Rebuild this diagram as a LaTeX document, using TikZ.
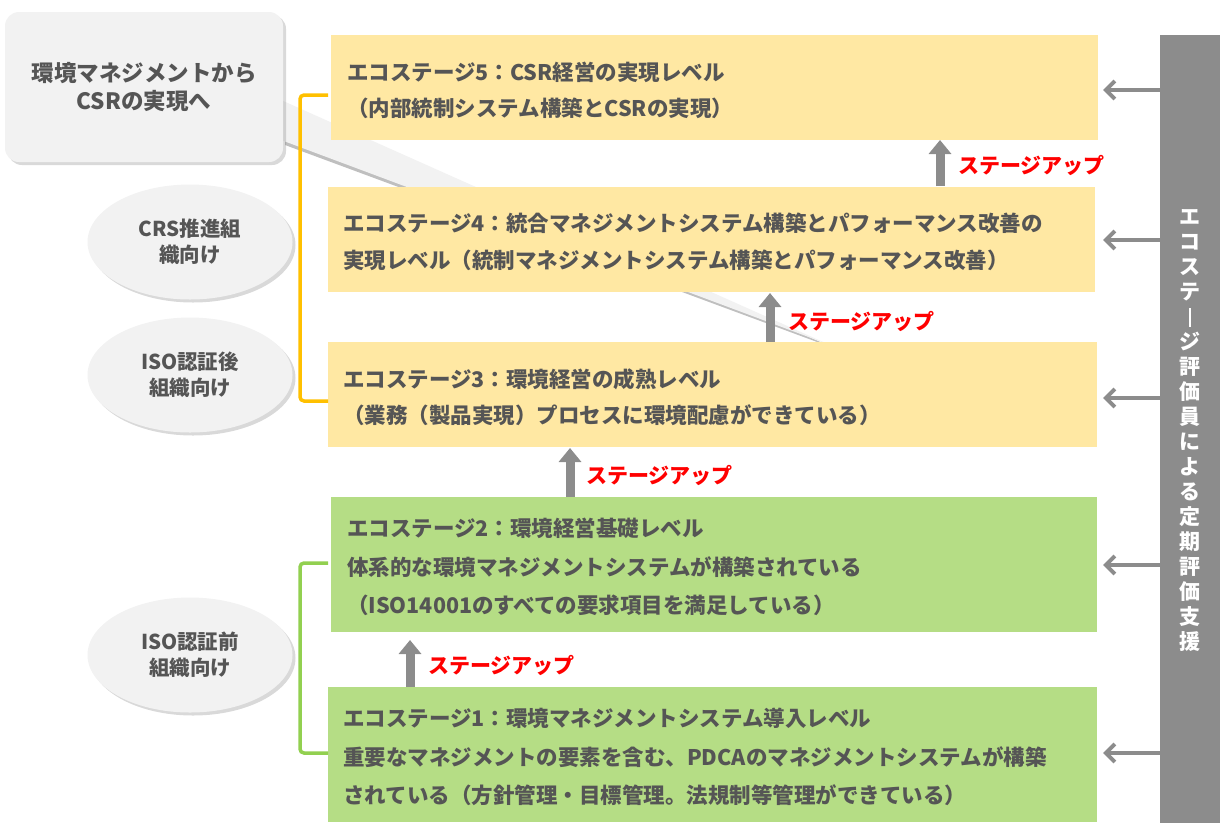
\documentclass[tikz,border=0pt]{standalone}
\usepackage{fontspec}
\setmainfont{Noto Sans CJK JP}
\usetikzlibrary{shadows,arrows.meta,shapes.geometric}
\definecolor{txt}{HTML}{555555}
\definecolor{yel}{HTML}{FFE8A3}
\definecolor{grn}{HTML}{B5DD85}
\definecolor{bar}{HTML}{8C8C8C}
\definecolor{lg}{HTML}{F2F2F2}
\definecolor{ybr}{HTML}{FFC000}
\definecolor{gbr}{HTML}{92D050}
\tikzset{
 ln/.style={anchor=west,text=txt,font=\fontsize{21.5}{24}\selectfont\bfseries,inner sep=0pt},
 upar/.style={-{Triangle[width=22pt,length=14pt]},line width=9pt,draw=bar},
 leftar/.style={-{Straight Barb[length=9pt,width=18pt]},line width=4pt,draw=bar},
 uplbl/.style={anchor=west,text=red,font=\fontsize{21}{24}\selectfont\bfseries,inner sep=0pt},
 ell/.style={ellipse,fill=lg,drop shadow={shadow xshift=3pt,shadow yshift=-3pt,opacity=0.3},text=txt,align=center,font=\fontsize{20.5}{26}\selectfont\bfseries,minimum width=205pt,minimum height=115pt,inner sep=0pt},
 brk/.style={line width=3.5pt,rounded corners=4pt}
}
\begin{document}
\begin{tikzpicture}[x=1pt,y=-1pt]
\useasboundingbox (0,0) rectangle (1220,823);
% callout
\fill[black!25] (285,104) -- (836,349) -- (285,145) -- cycle;
\fill[lg] (281,100) -- (830,345) -- (281,140) -- cycle;
\node[fill=lg,rounded corners=14pt,minimum width=278pt,minimum height=150pt,drop shadow={shadow xshift=3pt,shadow yshift=-3pt,opacity=0.3},align=center,text=txt,font=\fontsize{22.5}{28}\selectfont\bfseries] (call) at (144,87) {環境マネジメントから\\CSRの実現へ};
% boxes
\fill[yel] (331,35) rectangle (1098,140);
\fill[yel] (328,187) rectangle (1095,292);
\fill[yel] (328,342) rectangle (1097,447);
\fill[grn] (331,497) rectangle (1097,632);
\fill[grn] (328,687) rectangle (1097,822);
\node[ln] (t5a) at (347,72) {エコステージ5：CSR経営の実現レベル};
\node[ln] (t5b) at (347,108) {（内部統制システム構築とCSRの実現）};
\node[ln] (t4a) at (343,223) {エコステージ4：統合マネジメントシステム構築とパフォーマンス改善の};
\node[ln] (t4b) at (343,260) {実現レベル（統制マネジメントシステム構築とパフォーマンス改善）};
\node[ln] (t3a) at (343,379) {エコステージ3：環境経営の成熟レベル};
\node[ln] (t3b) at (343,415) {（業務（製品実現）プロセスに環境配慮ができている）};
\node[ln] (t2a) at (347,528) {エコステージ2：環境経営基礎レベル};
\node[ln] (t2b) at (347,567) {体系的な環境マネジメントシステムが構築されている};
\node[ln] (t2c) at (347,605) {（ISO14001のすべての要求項目を満足している）};
\node[ln] (t1a) at (343,718) {エコステージ1：環境マネジメントシステム導入レベル};
\node[ln] (t1b) at (343,757) {重要なマネジメントの要素を含む、PDCAのマネジメントシステムが構築};
\node[ln] (t1c) at (343,795) {されている（方針管理・目標管理。法規制等管理ができている）};
% up arrows
\coordinate (u5s) at (940,186); \coordinate (u5e) at (940,140);
\draw[upar] (u5s) -- (u5e); \node[uplbl] at (958,165) {ステージアップ};
\coordinate (u4s) at (770,342); \coordinate (u4e) at (770,293);
\draw[upar] (u4s) -- (u4e); \node[uplbl] at (788,321) {ステージアップ};
\coordinate (u3s) at (570,497); \coordinate (u3e) at (570,448);
\draw[upar] (u3s) -- (u3e); \node[uplbl] at (586,475) {ステージアップ};
\coordinate (u2s) at (410,687); \coordinate (u2e) at (410,640);
\draw[upar] (u2s) -- (u2e); \node[uplbl] at (428,665) {ステージアップ};
% right bar
\fill[bar] (1160,35) rectangle (1220,823);
\node[text=white,align=center,font=\fontsize{21}{25}\selectfont\bfseries,inner sep=0pt] (vt) at (1190,430) {エ\\コ\\ス\\テ\\\rule[-3pt]{2.6pt}{19pt}\\ジ\\評\\価\\員\\に\\よ\\る\\定\\期\\評\\価\\支\\援};
\foreach \y in {90,240,398,565,753}{
 \draw[leftar] (1160,\y) -- (1103,\y);
}
% ellipses
\node[ell] (e1) at (190,242) {CRS推進組\\織向け};
\node[ell] (e2) at (190,375) {ISO認証後\\組織向け};
\node[ell] (e3) at (190,655) {ISO認証前\\組織向け};
% brackets
\draw[brk,draw=ybr] (328,95) -- (300,95) -- (300,401) -- (328,401);
\draw[brk,draw=gbr] (328,563) -- (300,563) -- (300,753) -- (328,753);
\end{tikzpicture}
\end{document}
